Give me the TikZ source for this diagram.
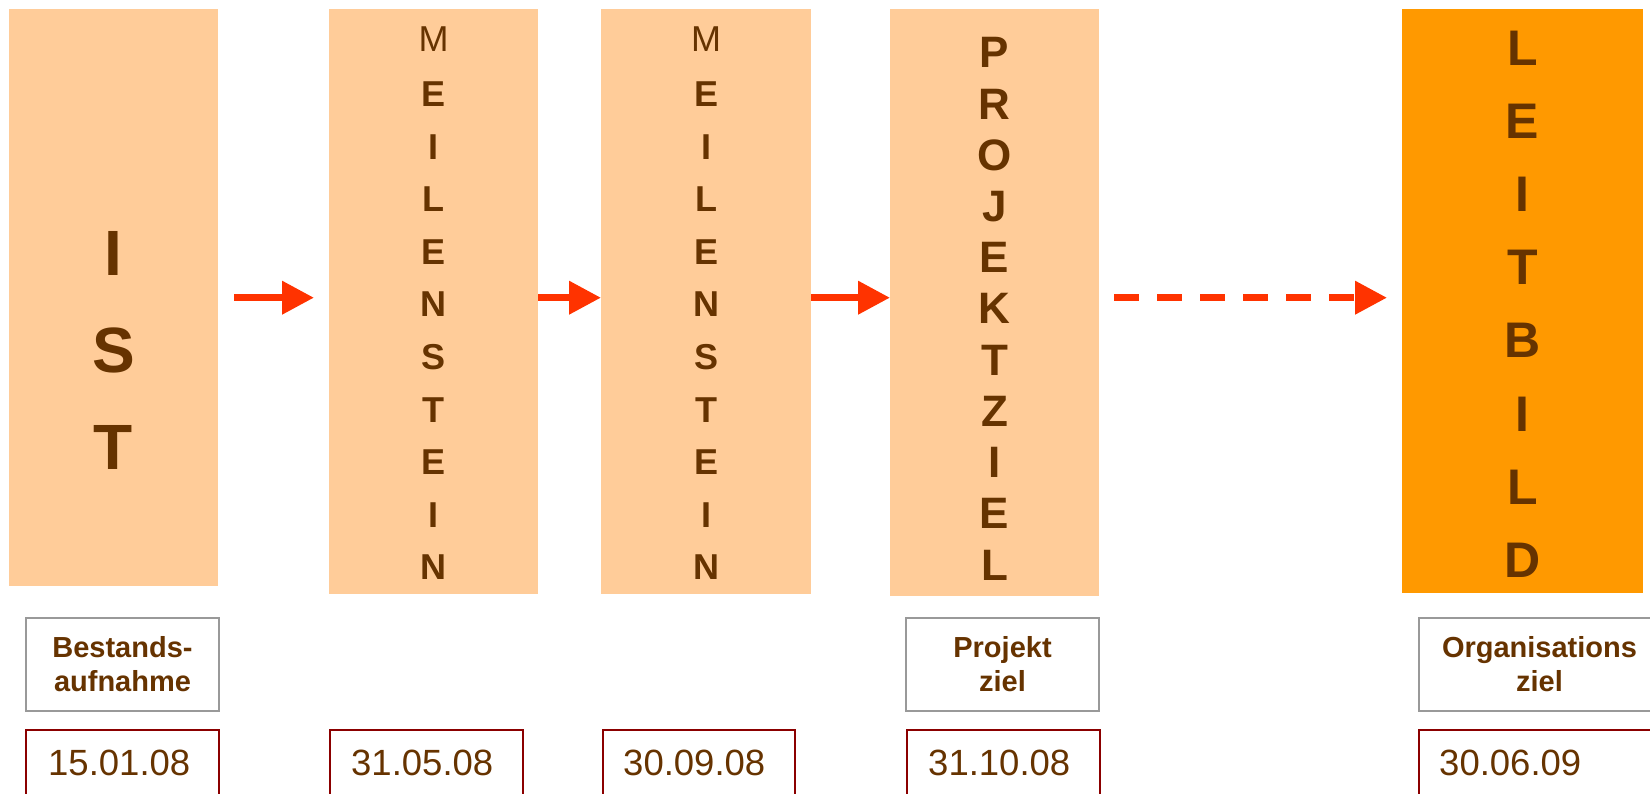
\documentclass[tikz,border=0pt]{standalone}
\usepackage{fontspec}
\setmainfont{Liberation Sans}
\usetikzlibrary{arrows.meta}
\definecolor{peach}{HTML}{FFCC99}
\definecolor{lborange}{HTML}{FF9900}
\definecolor{txtbrown}{HTML}{663300}
\definecolor{arrred}{HTML}{FF3300}
\definecolor{lblgray}{HTML}{999999}
\definecolor{datered}{HTML}{8B0000}
\tikzset{
  bar/.style={fill=peach, draw=none, anchor=north west, inner sep=0pt},
  ltr/.style={text=txtbrown, anchor=base, inner sep=0pt},
  istl/.style={ltr, font=\bfseries\fontsize{64}{64}\selectfont},
  msl/.style={ltr, font=\bfseries\fontsize{36}{36}\selectfont},
  pzl/.style={ltr, font=\bfseries\fontsize{44}{44}\selectfont},
  lbl/.style={ltr, font=\bfseries\fontsize{50}{50}\selectfont},
  lblbox/.style={draw=lblgray, line width=2pt, fill=white, anchor=north west, inner sep=0pt,
    minimum height=93pt, align=center, text=txtbrown, font=\bfseries\fontsize{29}{34}\selectfont},
  datebox/.style={draw=datered, line width=2pt, fill=white, anchor=north west, inner sep=0pt,
    minimum height=90pt},
  datetext/.style={text=txtbrown, anchor=base west, inner sep=0pt, font=\fontsize{36.5}{40}\selectfont},
  flow/.style={draw=arrred, line width=7pt, -{Triangle[length=32pt,width=32pt]}},
  dflow/.style={flow, dash pattern=on 25pt off 18pt}
}
\begin{document}
\begin{tikzpicture}[x=1pt,y=-1pt]
\useasboundingbox (0,0) rectangle (1650,794);
\clip (0,0) rectangle (1650,794);

% main boxes
\node[bar, minimum width=209pt, minimum height=577pt] (ist) at (9,9) {};
\node[bar, minimum width=209pt, minimum height=585pt] (m1) at (329,9) {};
\node[bar, minimum width=210pt, minimum height=585pt] (m2) at (601,9) {};
\node[bar, minimum width=209pt, minimum height=587pt] (pz) at (890,9) {};
\node[bar, fill=lborange, minimum width=241pt, minimum height=584pt] (lb) at (1402,9) {};

% IST
\node[istl] (i1) at (113.5,276) {I};
\node[istl] (i2) at (113.5,373) {S};
\node[istl] (i3) at (113.5,469) {T};

% Meilenstein 1
\node[msl, font=\mdseries\fontsize{36}{36}\selectfont] (ma0) at (433.5,52) {M};
\foreach \l [count=\i] in {E,I,L,E,N,S,T,E,I,N}
  \node[msl] (ma\i) at (433.5,{107+52.5*(\i-1)}) {\l};

% Meilenstein 2
\node[msl, font=\mdseries\fontsize{36}{36}\selectfont] (mb0) at (706,52) {M};
\foreach \l [count=\i] in {E,I,L,E,N,S,T,E,I,N}
  \node[msl] (mb\i) at (706,{107+52.5*(\i-1)}) {\l};

% Projektziel
\foreach \l [count=\i] in {P,R,O,J,E,K,T,Z,I,E,L}
  \node[pzl] (pl\i) at (994.5,{68+51.2*(\i-1)}) {\l};

% Leitbild
\foreach \l [count=\i] in {L,E,I,T,B,I,L,D}
  \node[lbl] (ll\i) at (1522.5,{66+73*(\i-1)}) {\l};

% label boxes
\node[lblbox, minimum width=193pt] (lab1) at (25,617) {Bestands-\\aufnahme};
\node[lblbox, minimum width=193pt] (lab2) at (905,617) {Projekt\\ziel};
\node[lblbox, minimum width=241pt] (lab3) at (1418,617) {Organisations\\ziel};

% date boxes
\node[datebox, minimum width=193pt] (d1) at (25,729) {};
\node[datebox, minimum width=193pt] (d2) at (329,729) {};
\node[datebox, minimum width=192pt] (d3) at (602,729) {};
\node[datebox, minimum width=193pt] (d4) at (906,729) {};
\node[datebox, minimum width=260pt] (d5) at (1418,729) {};
\node[datetext] (t1) at (48,775) {15.01.08};
\node[datetext] (t2) at (351,775) {31.05.08};
\node[datetext] (t3) at (623,775) {30.09.08};
\node[datetext] (t4) at (928,775) {31.10.08};
\node[datetext] (t5) at (1439,775) {30.06.09};

% arrows
\coordinate (a1s) at ([xshift=16pt]ist.east);
\coordinate (a1e) at (ist.east -| m1.west);
\draw[flow] (a1s) -- ([xshift=-15pt]a1e);
\draw[flow] (m1.east |- ist.east) -- (m2.west |- ist.east);
\draw[flow] (m2.east |- ist.east) -- (pz.west |- ist.east);
\coordinate (a4s) at (pz.east |- ist.east);
\coordinate (a4e) at (lb.west |- ist.east);
\draw[dflow] ([xshift=15pt]a4s) -- ([xshift=-15pt]a4e);
\end{tikzpicture}
\end{document}
